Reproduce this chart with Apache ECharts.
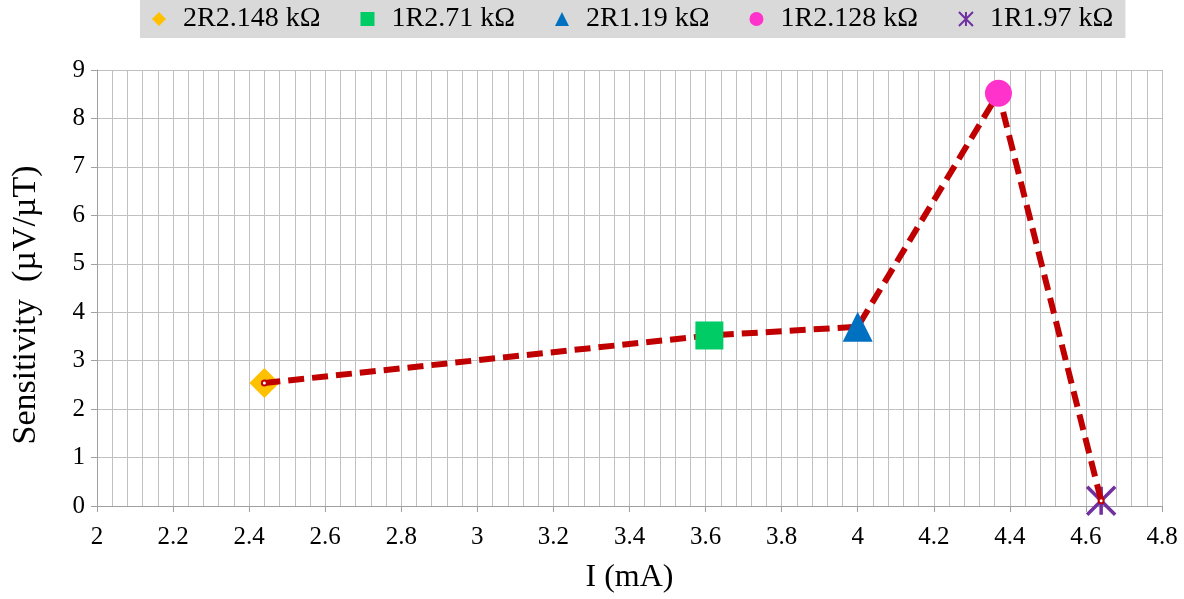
<!DOCTYPE html>
<html>
<head>
<meta charset="utf-8">
<script src="https://cdn.jsdelivr.net/npm/echarts@6/dist/echarts.min.js"></script>
<style>html,body{margin:0;padding:0;background:#fff}#c{width:1184px;height:599px}</style>
</head>
<body>
<div id="c"></div>
<script>
var seriesNames = ['2R2.148 kΩ', '1R2.71 kΩ', '2R1.19 kΩ', '1R2.128 kΩ', '1R1.97 kΩ'];
var currents = [2.44, 3.61, 4.00, 4.37, 4.64];
var sensitivities = [2.54, 3.52, 3.70, 8.52, 0.11];
var markerColors = ['#FFC000', '#00CC66', '#0070C0', '#FF33CC', '#7030A0'];
var markerSymbols = ['diamond', 'rect', 'triangle', 'circle', 'path://M0,0 L10,10 M10,0 L0,10 M5,0 L5,10'];
var markerSizes = [30, 28, 30, 27, 28];

var FONT = '"Liberation Serif", "Times New Roman", serif';
var chart = echarts.init(document.getElementById('c'), null, {renderer: 'canvas'});

var series = [{
  name: 'line',
  type: 'line',
  data: currents.map(function (x, i) { return [x, sensitivities[i]]; }),
  symbol: 'emptyCircle',
  symbolSize: 5,
  showSymbol: true,
  itemStyle: {color: '#C00000', borderColor: '#C00000', borderWidth: 1},
  lineStyle: {color: '#C00000', width: 6, type: [16, 8]},
  z: 3,
  silent: true,
  animation: false
}];
seriesNames.forEach(function (n, i) {
  var isX = i === 4;
  series.push({
    name: n,
    type: 'scatter',
    data: [[currents[i], sensitivities[i]]],
    symbol: markerSymbols[i],
    symbolSize: markerSizes[i],
    itemStyle: isX ? {color: 'rgba(0,0,0,0)', borderColor: markerColors[i], borderWidth: 3.5, opacity: 1} : {color: markerColors[i], opacity: 1},
    z: (i === 0 || i === 4) ? 2 : 4,
    animation: false
  });
});

chart.setOption({
  animation: false,
  legend: {
    data: seriesNames,
    top: 0,
    left: 140,
    backgroundColor: '#D9D9D9',
    padding: [5, 12, 5, 12],
    itemWidth: 14,
    itemHeight: 14,
    itemGap: 40,
    itemStyle: {opacity: 1},
    textStyle: {fontFamily: FONT, fontSize: 28, color: '#000', padding: [0, 0, 0, 12]}
  },
  grid: {left: 97, right: 22, top: 70, bottom: 91, containLabel: false},
  xAxis: {
    type: 'value',
    min: 2, max: 4.8, interval: 0.2,
    name: 'I (mA)',
    nameLocation: 'middle',
    nameGap: 56,
    nameTextStyle: {fontFamily: FONT, fontSize: 32, color: '#000'},
    axisLine: {show: true, lineStyle: {color: '#A0A0A0', width: 1}},
    axisTick: {show: true, length: 6, inside: false, lineStyle: {color: '#A0A0A0'}},
    axisLabel: {fontFamily: FONT, fontSize: 25, color: '#000', margin: 19},
    splitLine: {show: true, lineStyle: {color: '#C0C0C0', width: 1}},
    minorTick: {show: false, splitNumber: 5},
    minorSplitLine: {show: true, lineStyle: {color: '#C0C0C0', width: 1}}
  },
  yAxis: {
    type: 'value',
    min: 0, max: 9, interval: 1,
    name: 'Sensitivity  (µV/µT)',
    nameLocation: 'middle',
    nameGap: 54,
    nameRotate: 90,
    nameTextStyle: {fontFamily: FONT, fontSize: 34, color: '#000', padding: [0, 34, 0, 0]},
    axisLine: {show: true, lineStyle: {color: '#A0A0A0', width: 1}},
    axisTick: {show: true, length: 6, inside: false, lineStyle: {color: '#A0A0A0'}},
    axisLabel: {fontFamily: FONT, fontSize: 25, color: '#000', margin: 12},
    splitLine: {show: true, lineStyle: {color: '#C0C0C0', width: 1}}
  },
  series: series
});
</script>
</body>
</html>
